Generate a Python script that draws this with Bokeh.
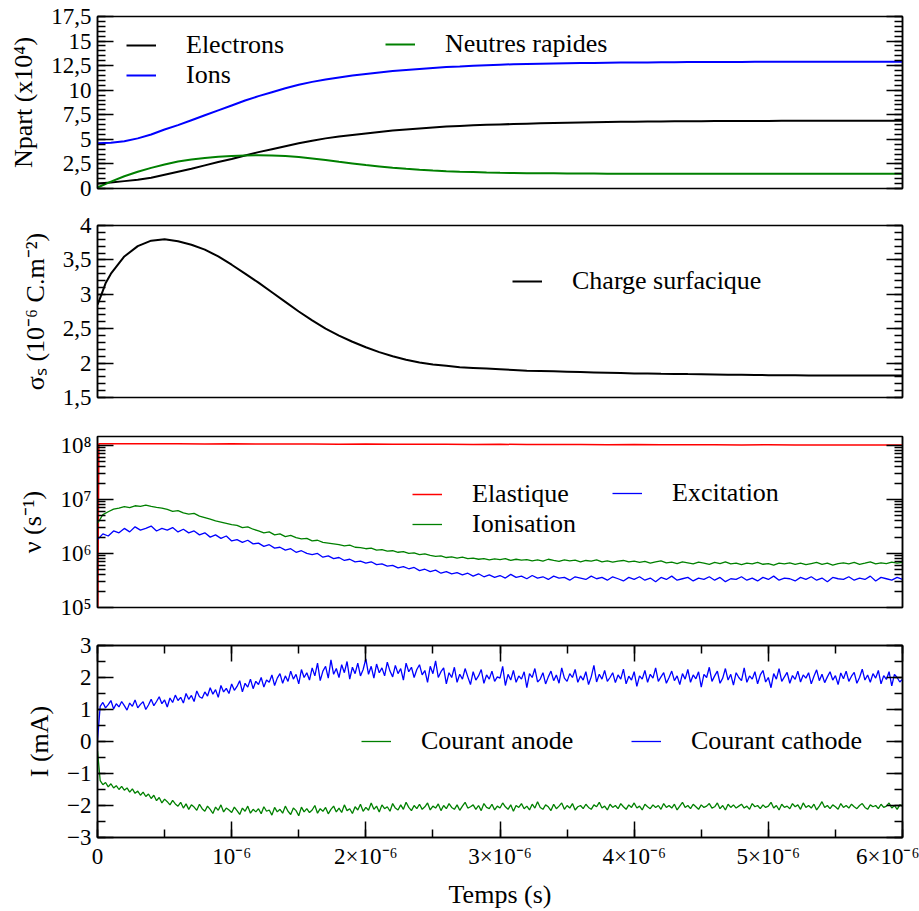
import numpy as np
from bokeh.plotting import figure
from bokeh.layouts import column
from bokeh.models import (Range1d, FixedTicker, LinearAxis, LogAxis, Legend,
                          LegendItem, CustomJSTickFormatter)
from bokeh.embed import file_html
from bokeh.resources import INLINE

FONT = "Liberation Serif"

# ---------------- data (time in microseconds) ----------------
t_smooth = np.linspace(0, 6, 61)
t_charge = [0.0, 0.03, 0.06] + list(np.linspace(0.1, 6, 60))
t_noisy = np.linspace(0, 6, 151)
t_current = np.linspace(0, 6, 301)
t_elastic = [0.0, 0.01] + list(np.linspace(0.2, 6, 30))

# Panel 1 : Npart (x10^4)
electrons = [0.5, 0.6, 0.75, 0.9, 1.1, 1.4, 1.7, 2.0, 2.35, 2.7,
             3.0, 3.35, 3.7, 4.0, 4.3, 4.6, 4.85, 5.1, 5.3, 5.45,
             5.6, 5.75, 5.9, 6.0, 6.1, 6.2, 6.3, 6.37, 6.43, 6.48,
             6.52, 6.56, 6.6, 6.63, 6.66, 6.69, 6.72, 6.74, 6.76, 6.78,
             6.8, 6.81, 6.82, 6.83, 6.84, 6.85, 6.86, 6.87, 6.87, 6.88,
             6.88, 6.89, 6.89, 6.9, 6.9, 6.9, 6.9, 6.9, 6.9, 6.9, 6.9]
ions = [4.6, 4.65, 4.8, 5.1, 5.5, 6.0, 6.45, 6.95, 7.45, 7.95,
        8.45, 8.95, 9.4, 9.8, 10.2, 10.55, 10.85, 11.1, 11.3, 11.5,
        11.65, 11.8, 11.95, 12.05, 12.15, 12.25, 12.35, 12.42, 12.5, 12.55,
        12.6, 12.64, 12.67, 12.7, 12.72, 12.74, 12.76, 12.78, 12.8, 12.81,
        12.82, 12.83, 12.84, 12.85, 12.86, 12.87, 12.87, 12.88, 12.88, 12.89,
        12.89, 12.9, 12.9, 12.9, 12.9, 12.9, 12.9, 12.9, 12.9, 12.9, 12.9]
neutres = [0.1, 0.7, 1.25, 1.7, 2.1, 2.45, 2.75, 2.95, 3.1, 3.22,
           3.3, 3.36, 3.38, 3.36, 3.3, 3.2, 3.05, 2.9, 2.72, 2.55,
           2.38, 2.25, 2.12, 2.0, 1.9, 1.82, 1.76, 1.71, 1.67, 1.63,
           1.6, 1.58, 1.56, 1.55, 1.54, 1.53, 1.52, 1.52, 1.51, 1.51,
           1.5, 1.5, 1.5, 1.5, 1.49, 1.49, 1.5, 1.5, 1.5, 1.49,
           1.49, 1.5, 1.5, 1.5, 1.5, 1.5, 1.5, 1.5, 1.5, 1.5, 1.5]

# Panel 2 : surface charge (10^-6 C.m^-2)
charge = [2.85, 3.0, 3.16,
          3.30, 3.55, 3.70, 3.78, 3.80, 3.77, 3.72, 3.65, 3.55,
          3.43, 3.30, 3.17, 3.03, 2.89, 2.75, 2.62, 2.50, 2.40, 2.31,
          2.23, 2.16, 2.10, 2.05, 2.01, 1.98, 1.96, 1.94, 1.93, 1.92,
          1.91, 1.90, 1.89, 1.885, 1.88, 1.875, 1.87, 1.865, 1.86, 1.855,
          1.85, 1.848, 1.845, 1.843, 1.84, 1.838, 1.835, 1.832, 1.83, 1.828,
          1.825, 1.823, 1.822, 1.82, 1.82, 1.82, 1.82, 1.82, 1.82, 1.82, 1.82]

# Panel 3 : collision frequencies
elastique_1e8 = [0.0001, 1.06, 1.06, 1.065, 1.06, 1.055, 1.06, 1.05, 1.055, 1.05, 1.045,
                 1.05, 1.04, 1.045, 1.04, 1.035, 1.04, 1.03, 1.035, 1.03, 1.025,
                 1.03, 1.02, 1.025, 1.02, 1.015, 1.02, 1.01, 1.015, 1.01, 1.005, 1.01]
ionisation_1e6 = [3.6, 5.2, 5.9, 6.6, 6.9, 7.3, 7.0, 7.6, 7.4, 7.8,
                  7.4, 7.1, 6.9, 6.5, 6.0, 6.2, 5.6, 5.3, 5.5, 4.9,
                  4.6, 4.3, 4.0, 3.8, 3.6, 3.4, 3.3, 3.0, 3.1, 2.8,
                  2.6, 2.4, 2.5, 2.2, 2.3, 2.05, 2.15, 1.95, 1.85, 1.9,
                  1.7, 1.75, 1.6, 1.55, 1.5, 1.45, 1.38, 1.42, 1.3, 1.28,
                  1.22, 1.25, 1.15, 1.18, 1.1, 1.12, 1.05, 1.08, 1.0, 1.02,
                  0.95, 0.98, 0.92, 0.88, 0.9, 0.84, 0.86, 0.82, 0.85, 0.8,
                  0.82, 0.78, 0.8, 0.76, 0.79, 0.77, 0.8, 0.74, 0.78, 0.75,
                  0.77, 0.73, 0.76, 0.72, 0.78, 0.74, 0.71, 0.76, 0.73, 0.75,
                  0.7, 0.74, 0.72, 0.76, 0.7, 0.73, 0.69, 0.72, 0.74, 0.7,
                  0.72, 0.68, 0.71, 0.66, 0.7, 0.73, 0.67, 0.69, 0.65, 0.7,
                  0.67, 0.64, 0.69, 0.66, 0.63, 0.68, 0.65, 0.7, 0.64, 0.66,
                  0.62, 0.66, 0.64, 0.68, 0.63, 0.65, 0.61, 0.66, 0.64, 0.67,
                  0.63, 0.66, 0.62, 0.65, 0.68, 0.63, 0.66, 0.61, 0.65, 0.67,
                  0.64, 0.68, 0.63, 0.66, 0.7, 0.64, 0.67, 0.65, 0.69, 0.66,
                  0.68]
excitation_1e6 = [1.8, 2.3, 2.1, 2.6, 2.4, 2.9, 2.5, 3.1, 2.7, 2.9,
                  3.2, 2.6, 2.9, 2.7, 3.0, 2.5, 2.8, 2.4, 2.6, 2.2,
                  2.4, 2.0, 2.2, 1.9, 2.1, 1.7, 1.8, 1.6, 1.75, 1.5,
                  1.55, 1.35, 1.45, 1.25, 1.3, 1.15, 1.22, 1.05, 1.12, 1.0,
                  0.95, 1.0, 0.85, 0.9, 0.8, 0.84, 0.74, 0.78, 0.7, 0.72,
                  0.66, 0.7, 0.62, 0.64, 0.58, 0.6, 0.54, 0.57, 0.52, 0.55,
                  0.48, 0.51, 0.46, 0.49, 0.43, 0.46, 0.42, 0.44, 0.4, 0.43,
                  0.38, 0.42, 0.37, 0.4, 0.36, 0.39, 0.35, 0.41, 0.36, 0.38,
                  0.34, 0.39, 0.35, 0.37, 0.33, 0.38, 0.35, 0.36, 0.32, 0.37,
                  0.35, 0.33, 0.38, 0.34, 0.36, 0.32, 0.37, 0.34, 0.31, 0.36,
                  0.33, 0.37, 0.32, 0.35, 0.3, 0.36, 0.33, 0.38, 0.32, 0.34,
                  0.36, 0.31, 0.35, 0.33, 0.37, 0.32, 0.36, 0.3, 0.34, 0.33,
                  0.37, 0.32, 0.35, 0.31, 0.36, 0.33, 0.38, 0.32, 0.35, 0.34,
                  0.31, 0.36, 0.33, 0.37, 0.32, 0.35, 0.3, 0.36, 0.34, 0.33,
                  0.37, 0.32, 0.35, 0.33, 0.38, 0.31, 0.36, 0.34, 0.32, 0.36,
                  0.33]

# Panel 4 : currents (mA), sampled every 0.02 microsecond
cathode = [0.05, 1.10, 1.22, 1.05, 1.15, 1.28, 1.02, 1.18, 1.08, 1.25,
           1.12, 0.98, 1.20, 1.10, 1.30, 1.05, 1.16, 1.24, 1.00, 1.14,
           1.32, 1.12, 1.25, 1.40, 1.18, 1.30, 1.08, 1.36, 1.22, 1.45,
           1.28, 1.38, 1.20, 1.50, 1.32, 1.44, 1.25, 1.58, 1.40, 1.35,
           1.55, 1.42, 1.68, 1.48, 1.62, 1.38, 1.75, 1.55, 1.66, 1.50,
           1.80, 1.60, 1.72, 1.90, 1.55, 1.82, 1.70, 1.95, 1.65, 1.88,
           1.78, 2.00, 1.70, 1.92, 1.85, 2.08, 1.75, 1.98, 2.12, 1.82,
           2.05, 1.88, 2.20, 1.95, 2.10, 1.80, 2.25, 2.00, 2.15, 1.92,
           2.30, 2.05, 2.45, 1.90, 2.20, 2.35, 1.98, 2.55, 2.10, 2.28,
           2.00, 2.40, 2.15, 2.50, 1.95, 2.32, 2.12, 2.45, 2.05, 2.25,
           2.58, 2.10, 2.35, 1.98, 2.42, 2.15, 2.30, 2.05, 2.48, 2.20,
           2.02, 2.38, 2.12, 2.28, 1.92, 2.45, 2.18, 2.32, 2.00, 2.25,
           2.40, 2.08, 2.22, 1.85, 2.35, 2.12, 2.52, 2.00, 2.18, 2.30,
           1.80, 2.15, 2.00, 2.32, 1.85, 2.10, 1.95, 2.28, 2.02, 1.78,
           2.18, 1.92, 2.05, 2.25, 1.82, 2.08, 1.95, 2.20, 1.88, 2.02,
           1.98, 2.35, 1.75, 2.10, 1.92, 2.22, 1.85, 2.05, 1.95, 2.18,
           1.68, 2.12, 2.00, 2.28, 1.86, 1.95, 2.15, 1.80, 2.02, 2.20,
           1.90, 2.08, 1.82, 2.30, 1.98, 1.88, 2.12, 2.00, 2.25, 1.85,
           2.05, 1.92, 2.18, 1.78, 2.02, 2.38, 1.86, 2.10, 1.95, 2.22,
           1.88, 2.00, 2.15, 1.84, 2.08, 1.95, 2.26, 1.80, 2.04, 1.92,
           2.18, 1.72, 2.05, 1.95, 2.22, 1.85, 2.10, 1.98, 2.30, 1.88,
           2.02, 2.15, 1.82, 2.00, 2.20, 1.90, 2.05, 1.78, 2.12, 1.95,
           2.25, 1.85, 2.08, 1.96, 2.18, 1.70, 2.10, 2.00, 2.32, 1.88,
           2.05, 2.20, 1.82, 1.98, 2.28, 1.92, 2.10, 1.76, 2.15, 2.00,
           1.90, 2.30, 1.85, 2.05, 1.95, 2.18, 1.80, 2.08, 2.22, 1.86,
           2.00, 1.68, 2.12, 1.95, 2.28, 1.88, 2.02, 2.16, 1.82, 2.06,
           1.94, 2.20, 1.86, 2.08, 1.98, 2.15, 1.80, 2.04, 2.24, 1.90,
           2.10, 1.84, 2.02, 2.18, 1.92, 2.06, 1.78, 2.14, 1.96, 2.20,
           1.88, 2.04, 2.16, 1.82, 2.00, 2.26, 1.92, 2.08, 1.85, 2.12,
           1.98, 2.22, 1.80, 2.06, 1.94, 2.18, 1.74, 2.10, 2.00, 1.86,
           1.95]
anode = [-0.30, -1.22, -1.35, -1.28, -1.42, -1.32, -1.45, -1.38, -1.50, -1.40,
         -1.52, -1.45, -1.58, -1.48, -1.62, -1.55, -1.68, -1.58, -1.72, -1.64,
         -1.78, -1.68, -1.85, -1.75, -1.92, -1.80, -1.88, -1.98, -1.84, -1.95,
         -2.02, -1.90, -2.08, -1.95, -2.12, -1.98, -2.05, -2.15, -1.96, -2.10,
         -2.18, -2.02, -2.12, -2.25, -2.05, -2.15, -1.98, -2.20, -2.08, -2.14,
         -2.22, -2.05, -2.16, -2.28, -2.08, -2.18, -2.02, -2.24, -2.12, -2.20,
         -2.10, -2.26, -2.04, -2.18, -2.14, -2.30, -2.06, -2.20, -2.12, -2.24,
         -2.02, -2.18, -2.28, -2.08, -2.16, -2.32, -2.05, -2.20, -2.10, -2.22,
         -2.14, -2.00, -2.24, -2.10, -2.18, -2.06, -2.26, -2.12, -2.02, -2.20,
         -2.08, -2.22, -1.98, -2.16, -2.10, -2.25, -2.04, -2.14, -1.96, -2.18,
         -2.06, -2.15, -1.92, -2.12, -2.02, -2.20, -1.98, -2.10, -2.04, -2.18,
         -1.94, -2.08, -2.14, -1.98, -2.12, -1.90, -2.06, -2.16, -2.00, -2.10,
         -1.96, -2.12, -2.04, -1.92, -2.14, -2.02, -2.08, -1.95, -2.16, -2.00,
         -2.10, -1.94, -2.06, -2.12, -1.98, -2.15, -2.02, -1.90, -2.08, -2.04,
         -1.98, -2.12, -2.00, -2.16, -1.94, -2.06, -2.10, -1.96, -2.14, -2.02,
         -2.08, -1.92, -2.04, -2.12, -1.98, -2.18, -2.00, -2.06, -1.94, -2.10,
         -2.02, -2.14, -1.96, -2.08, -1.88, -2.06, -2.12, -1.98, -2.04, -2.16,
         -1.96, -2.10, -2.02, -1.92, -2.12, -2.00, -2.08, -1.94, -2.14, -2.04,
         -2.00, -2.10, -1.96, -2.06, -2.12, -1.98, -2.04, -1.90, -2.08, -2.02,
         -2.14, -1.96, -2.06, -2.00, -2.10, -1.94, -2.04, -2.12, -1.98, -2.06,
         -1.92, -2.08, -2.02, -2.14, -1.96, -2.04, -2.10, -1.98, -2.06, -2.00,
         -2.12, -1.94, -2.06, -2.00, -2.08, -1.96, -2.14, -2.02, -1.90, -2.06,
         -2.00, -2.10, -1.96, -2.04, -2.12, -1.98, -2.06, -2.02, -1.94, -2.08,
         -2.04, -1.92, -2.10, -2.00, -2.14, -1.96, -2.06, -1.98, -2.08, -2.02,
         -1.96, -2.08, -2.02, -2.12, -1.94, -2.04, -2.00, -2.10, -1.98, -2.06,
         -2.02, -1.90, -2.08, -2.00, -2.14, -1.96, -2.06, -2.02, -2.10, -1.94,
         -2.04, -1.98, -2.12, -1.92, -2.06, -2.00, -2.08, -1.96, -2.14, -2.02,
         -1.88, -2.06, -2.00, -2.10, -1.98, -2.04, -2.12, -1.94, -2.06, -2.00,
         -2.08, -1.96, -2.04, -2.10, -2.00, -1.94, -2.06, -2.12, -1.98, -2.04,
         -2.00, -2.10, -1.96, -2.06, -2.02, -1.92, -2.08, -2.00, -2.12, -1.98,
         -2.02]

# ---------------- styling helpers ----------------
BLACK, BLUE, GREEN, RED = "#000000", "#0000ff", "#008000", "#ff0000"
FW = 805

comma_fmt = CustomJSTickFormatter(code="return String(tick).replace('.', ',').replace('-', '\u2212');")
empty_fmt = "return '';"
log_fmt = CustomJSTickFormatter(code="""
const e = Math.round(Math.log10(tick));
const sup = {'5':'\u2075','6':'\u2076','7':'\u2077','8':'\u2078'};
return '10' + sup[String(e)];
""")
x_fmt = CustomJSTickFormatter(code="""
if (tick == 0) return '0';
if (tick == 1) return '10\u207b\u2076';
return tick + '\u00d710\u207b\u2076';
""")


def style_axis(ax, ticks, minor, formatter, label=None):
    ax.ticker = FixedTicker(ticks=ticks, minor_ticks=minor)
    ax.formatter = formatter
    ax.major_tick_in = 16
    ax.major_tick_out = 0
    ax.minor_tick_in = 8
    ax.minor_tick_out = 0
    ax.major_tick_line_width = 1.5
    ax.minor_tick_line_width = 1.5
    ax.axis_line_width = 1.5
    ax.axis_line_color = BLACK
    ax.major_label_text_font = FONT
    ax.major_label_text_font_size = "23px"
    ax.major_label_text_color = BLACK
    ax.major_label_standoff = 6
    if label is not None:
        ax.axis_label = label
        ax.axis_label_text_font = FONT
        ax.axis_label_text_font_size = "26px"
        ax.axis_label_text_font_style = "normal"
        ax.axis_label_text_color = BLACK
        ax.axis_label_standoff = 10


def add_mirror(p, side, ticks, minor, log=False):
    ax = LogAxis() if log else LinearAxis()
    style_axis(ax, ticks, minor, CustomJSTickFormatter(code=empty_fmt))
    ax.major_label_standoff = 0
    p.add_layout(ax, side)


def make_fig(fh, top, bottom, y_range, log=False, show_x=False):
    p = figure(frame_width=FW, frame_height=fh,
               x_range=Range1d(0, 6), y_range=y_range,
               y_axis_type="log" if log else "linear",
               x_axis_location="below" if show_x else None,
               output_backend="svg", toolbar_location=None,
               min_border_left=97, min_border_right=17,
               min_border_top=top, min_border_bottom=bottom)
    p.grid.visible = False
    p.outline_line_color = BLACK
    p.outline_line_width = 1.5
    p.outline_line_alpha = 1.0
    p.background_fill_color = "white"
    p.border_fill_color = "white"
    return p


def make_legend(items, loc):
    lg = Legend(items=items, location=loc, orientation="vertical",
                label_text_font=FONT, label_text_font_size="26px",
                label_text_color=BLACK, glyph_width=30, glyph_height=20,
                label_standoff=30, spacing=0, padding=0, margin=0,
                border_line_color=None, background_fill_alpha=0)
    return lg


# ---------------- panel 1 ----------------
p1 = make_fig(172, 16, 18, Range1d(0, 17.5))
r_e = p1.line(t_smooth, electrons, line_color=BLACK, line_width=2)
r_i = p1.line(t_smooth, ions, line_color=BLUE, line_width=2)
r_n = p1.line(t_smooth, neutres, line_color=GREEN, line_width=2)
y1_ticks = [0, 2.5, 5, 7.5, 10, 12.5, 15, 17.5]
y1_minor = [i * 0.5 for i in range(36)]
style_axis(p1.yaxis[0], y1_ticks, y1_minor, comma_fmt, "Npart (x10\u2074)")
add_mirror(p1, "right", y1_ticks, y1_minor)
p1.add_layout(make_legend([LegendItem(label="Electrons", renderers=[r_e]),
                           LegendItem(label="Ions", renderers=[r_i])], (29, 98)))
p1.add_layout(make_legend([LegendItem(label="Neutres rapides", renderers=[r_n])], (288, 129)))

# ---------------- panel 2 ----------------
p2 = make_fig(172, 19, 19, Range1d(1.5, 4))
r_c = p2.line(t_charge, charge, line_color=BLACK, line_width=2)
y2_ticks = [1.5, 2, 2.5, 3, 3.5, 4]
y2_minor = [round(1.5 + i * 0.1, 2) for i in range(26)]
style_axis(p2.yaxis[0], y2_ticks, y2_minor, comma_fmt, "\u03c3\u209b (10\u207b\u2076 C.m\u207b\u00b2)")
add_mirror(p2, "right", y2_ticks, y2_minor)
p2.add_layout(make_legend([LegendItem(label="Charge surfacique", renderers=[r_c])], (415, 101)))

# ---------------- panel 3 ----------------
p3 = make_fig(171, 20, 19, Range1d(1e5, 1.45e8), log=True)
r_el = p3.line(t_elastic, np.array(elastique_1e8) * 1e8, line_color=RED, line_width=1.5)
r_io = p3.line(t_noisy, np.array(ionisation_1e6) * 1e6, line_color=GREEN, line_width=1.3)
r_ex = p3.line(t_noisy, np.array(excitation_1e6) * 1e6, line_color=BLUE, line_width=1.3)
y3_ticks = [1e5, 1e6, 1e7, 1e8]
y3_minor = [m * 10 ** e for e in range(5, 9) for m in range(2, 10)]
style_axis(p3.yaxis[0], y3_ticks, y3_minor, log_fmt, "\u03bd (s\u207b\u00b9)")
add_mirror(p3, "right", y3_ticks, y3_minor, log=True)
p3.add_layout(make_legend([LegendItem(label="Elastique", renderers=[r_el]),
                           LegendItem(label="Ionisation", renderers=[r_io])], (315, 68)))
p3.add_layout(make_legend([LegendItem(label="Excitation", renderers=[r_ex])], (515, 99)))

# ---------------- panel 4 ----------------
p4 = make_fig(192, 19, 70, Range1d(-3, 3), show_x=True)
r_an = p4.line(t_current, anode, line_color=GREEN, line_width=1.3)
r_ca = p4.line(t_current, cathode, line_color=BLUE, line_width=1.3)
y4_ticks = [-3, -2, -1, 0, 1, 2, 3]
y4_minor = [-3 + i * 0.5 for i in range(13)]
style_axis(p4.yaxis[0], y4_ticks, y4_minor, comma_fmt, "I (mA)")
add_mirror(p4, "right", y4_ticks, y4_minor)
x_ticks = [0, 1, 2, 3, 4, 5, 6]
x_minor = [i * 0.5 for i in range(13)]
style_axis(p4.xaxis[0], x_ticks, x_minor, x_fmt, "Temps (s)")
p4.xaxis[0].axis_label_standoff = 8
add_mirror(p4, "above", x_ticks, x_minor)
p4.add_layout(make_legend([LegendItem(label="Courant anode", renderers=[r_an])], (264, 81)))
p4.add_layout(make_legend([LegendItem(label="Courant cathode", renderers=[r_ca])], (534, 81)))

layout = column(p1, p2, p3, p4, spacing=0)
open("out.html", "w").write(file_html(layout, INLINE))
